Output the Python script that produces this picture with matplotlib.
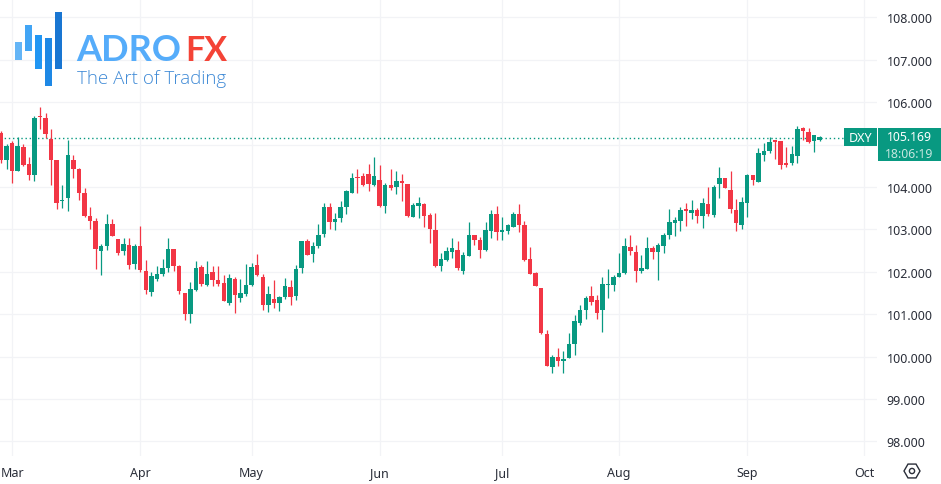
import matplotlib
matplotlib.use("Agg")
import matplotlib.pyplot as plt
from matplotlib.patches import Rectangle, RegularPolygon, Circle
import numpy as np

# daily DXY candles
opens = [105.27, 104.64, 105.05, 104.38, 104.95, 104.54, 104.28, 105.68, 105.63, 105.13,
         104.64, 103.68, 103.75, 104.63, 104.42, 103.87, 103.32, 103.20, 102.50, 102.60,
         103.12, 102.77, 102.50, 102.63, 102.18, 102.61, 102.02, 101.53, 101.84, 101.95,
         102.10, 102.53, 102.14, 101.50, 101.01, 101.57, 102.12, 101.70, 101.99, 101.82,
         101.74, 101.26, 101.83, 101.39, 101.48, 101.68, 102.16, 101.88, 101.22, 101.36,
         101.27, 101.40, 101.64, 101.42, 102.09, 102.72, 102.43, 102.62, 102.90, 103.53,
         103.18, 103.27, 103.53, 103.86, 104.24, 104.25, 104.31, 104.04, 104.17, 103.55,
         104.06, 104.01, 104.14, 104.08, 103.29, 103.55, 103.59, 103.34, 102.98, 102.14,
         102.29, 102.47, 102.52, 102.02, 102.38, 102.88, 102.75, 102.52, 102.97, 103.37,
         102.93, 102.96, 103.07, 103.37, 103.11, 102.30, 101.97, 101.62, 100.53, 99.75,
         99.99, 99.90, 99.98, 100.29, 100.79, 101.10, 101.43, 101.34, 101.11, 101.68,
         101.69, 101.87, 101.97, 102.59, 102.46, 102.01, 102.07, 102.57, 102.47, 102.62,
         102.86, 103.15, 103.21, 103.48, 103.40, 103.45, 103.33, 103.59, 103.34, 104.08,
         104.21, 103.94, 103.45, 103.11, 103.62, 104.29, 104.13, 104.76, 104.85, 105.10,
         105.08, 104.57, 104.57, 104.74, 105.40, 105.29, 105.08, 105.10]
highs = [105.33, 105.01, 105.09, 105.19, 105.01, 104.70, 105.67, 105.88, 105.74, 105.37,
         104.64, 104.05, 105.12, 104.75, 104.44, 103.98, 103.53, 103.28, 102.66, 103.36,
         103.24, 102.77, 102.80, 102.80, 102.66, 103.08, 102.29, 102.00, 102.14, 102.30,
         102.81, 102.53, 102.16, 101.50, 101.77, 102.25, 102.16, 102.25, 102.14, 102.13,
         101.92, 101.96, 101.89, 101.83, 102.18, 102.21, 102.42, 101.94, 101.67, 101.80,
         101.44, 101.85, 101.81, 102.16, 102.74, 102.78, 102.70, 103.13, 103.63, 103.63,
         103.39, 103.67, 103.94, 104.33, 104.43, 104.33, 104.55, 104.70, 104.51, 104.10,
         104.43, 104.38, 104.31, 104.08, 103.62, 103.77, 103.63, 103.40, 103.39, 102.45,
         102.58, 102.80, 102.72, 102.48, 103.18, 102.88, 102.82, 103.17, 103.45, 103.55,
         103.29, 103.13, 103.42, 103.59, 103.19, 102.58, 101.99, 101.62, 100.62, 100.04,
         100.20, 100.13, 100.55, 100.98, 101.22, 101.44, 101.66, 101.46, 101.87, 102.07,
         101.93, 102.45, 102.79, 102.87, 102.63, 102.40, 102.82, 102.60, 102.68, 102.92,
         103.48, 103.29, 103.52, 103.63, 103.70, 103.50, 103.74, 104.00, 104.05, 104.47,
         104.22, 104.37, 103.72, 103.76, 104.31, 104.29, 104.92, 105.04, 105.17, 105.12,
         105.08, 104.95, 104.98, 105.43, 105.42, 105.39, 105.23, 105.20]
lows = [104.56, 104.42, 104.09, 104.38, 104.49, 104.17, 104.15, 105.38, 105.15, 104.05,
        103.48, 103.50, 103.44, 104.22, 103.69, 103.29, 103.02, 102.08, 101.92, 102.51,
        102.84, 102.40, 102.40, 102.08, 102.07, 102.00, 101.48, 101.44, 101.79, 101.91,
        102.00, 102.03, 101.48, 100.87, 100.79, 101.55, 101.66, 101.67, 101.67, 101.67,
        101.31, 101.22, 101.03, 101.30, 101.44, 101.66, 101.91, 101.09, 101.06, 101.15,
        101.07, 101.37, 101.22, 101.34, 101.97, 102.40, 102.24, 102.56, 102.83, 103.01,
        102.99, 103.18, 103.37, 103.86, 103.86, 104.03, 103.90, 104.03, 103.52, 103.39,
        103.94, 103.84, 103.67, 103.30, 103.29, 103.27, 103.06, 102.68, 102.11, 102.02,
        102.26, 102.33, 102.05, 101.95, 102.38, 102.63, 102.33, 102.50, 102.80, 102.75,
        102.75, 102.89, 103.05, 102.95, 102.26, 101.95, 101.66, 100.54, 99.77, 99.61,
        99.77, 99.61, 99.96, 100.03, 100.75, 100.90, 101.22, 100.89, 100.59, 101.38,
        101.56, 101.87, 101.96, 102.40, 101.77, 101.98, 102.07, 102.31, 101.80, 102.44,
        102.78, 102.84, 102.97, 103.09, 103.25, 103.15, 103.03, 103.33, 103.30, 103.75,
        103.97, 103.39, 102.97, 103.01, 103.29, 104.04, 104.12, 104.62, 104.80, 104.66,
        104.43, 104.47, 104.52, 104.57, 105.10, 105.04, 104.83, 105.09]
closes = [104.64, 104.97, 104.37, 104.97, 104.53, 104.29, 105.63, 105.66, 105.26, 104.64,
          103.62, 103.69, 104.75, 104.42, 103.87, 103.31, 103.21, 102.54, 102.60, 103.12,
          102.84, 102.44, 102.66, 102.17, 102.61, 102.05, 101.58, 101.90, 101.94, 102.10,
          102.55, 102.15, 101.54, 101.01, 101.59, 102.10, 101.71, 101.96, 101.81, 101.72,
          101.32, 101.85, 101.46, 101.50, 101.70, 102.12, 101.92, 101.22, 101.48, 101.27,
          101.41, 101.67, 101.41, 102.08, 102.72, 102.41, 102.62, 102.87, 103.53, 103.18,
          103.25, 103.53, 103.90, 104.21, 104.22, 104.04, 104.07, 104.25, 103.55, 104.06,
          103.98, 104.14, 104.10, 103.31, 103.58, 103.63, 103.31, 103.01, 102.14, 102.30,
          102.49, 102.56, 102.09, 102.41, 102.87, 102.75, 102.52, 102.98, 103.37, 102.93,
          102.98, 103.11, 103.37, 103.11, 102.27, 101.95, 101.67, 100.56, 99.78, 99.99,
          99.90, 99.95, 100.30, 100.84, 101.10, 101.39, 101.29, 101.03, 101.72, 101.72,
          101.88, 101.98, 102.61, 102.49, 102.01, 102.09, 102.57, 102.47, 102.63, 102.88,
          103.18, 103.22, 103.47, 103.44, 103.45, 103.33, 103.62, 103.36, 104.00, 104.21,
          103.99, 103.48, 103.16, 103.65, 104.29, 104.17, 104.80, 104.85, 105.06, 105.07,
          104.51, 104.53, 104.77, 105.37, 105.32, 105.06, 105.22, 105.17]

price_ticks = [98, 99, 100, 101, 102, 103, 104, 105, 106, 107, 108]
month_names = ["Mar", "Apr", "May", "Jun", "Jul", "Aug", "Sep", "Oct"]
month_index = [2, 25, 45, 68, 90, 111, 134, 155]
last_price = 105.169

UP = "#089981"
DOWN = "#F23645"
GRID = "#F2F3F6"
TEXT = "#2A2E39"
FONT = "Noto Sans"

W, H = 941, 485
fig = plt.figure(figsize=(W / 100, H / 100), dpi=100, facecolor="white")
ax = fig.add_axes([0, (H - 457) / H, 877 / W, 457 / H])

x = np.arange(len(opens))
o, h, l, c = map(np.array, (opens, highs, lows, closes))
colors = [UP if cc >= oo else DOWN for oo, cc in zip(opens, closes)]

ax.vlines(x, l, h, colors=colors, lw=0.9, zorder=3)
ax.bar(x, np.maximum(np.abs(c - o), 0.02), bottom=np.minimum(o, c), width=0.8, color=colors,
       linewidth=0, zorder=4)
ax.axhline(last_price, color=UP, lw=1.0, ls=(0, (1, 2)), zorder=2)

ax.set_xlim(-0.18, 157.3)
ax.set_ylim(97.658, 108.436)
ax.set_yticks(price_ticks)
# the 105 label sits under the last-price tag, so it is left blank
ax.set_yticklabels(["" if p == 105 else f"{p:.3f}" for p in price_ticks], family=FONT, fontsize=9, color=TEXT)
ax.set_xticks(month_index)
ax.set_xticklabels(month_names, family=FONT, fontsize=9, color=TEXT)
ax.yaxis.tick_right()
ax.tick_params(axis="y", length=0, pad=7)
ax.tick_params(axis="x", length=0, pad=7)
ax.grid(True, color=GRID, lw=0.9, zorder=0)
ax.set_axisbelow(True)
for s in ax.spines.values():
    s.set_visible(False)

# everything below is chrome placed in pixels: price tags, logo, settings icon
ov = fig.add_axes([0, 0, 1, 1], facecolor="none", zorder=10)
ov.set_xlim(0, W)
ov.set_ylim(H, 0)
ov.axis("off")

ov.add_patch(Rectangle((844, 129), 33, 18, color=UP, lw=0))
ov.add_patch(Rectangle((878, 129), 63, 33, color=UP, lw=0))
ov.text(860.5, 138.5, "DXY", color="white", family=FONT, fontsize=9, ha="center", va="center", weight="medium")
ov.text(909.5, 138, f"{last_price:.3f}", color="white", family=FONT, fontsize=8.8, ha="center", va="center")
ov.text(909.5, 155, "18:06:19", color="#C5E6DF", family=FONT, fontsize=8.8, ha="center", va="center")

bars = [(15, 43, 6.7, 18, "#64B5F6"), (25, 26, 6.7, 26, "#42A5F5"), (35, 36, 6.7, 34, "#2196F3"),
        (45, 39, 6.7, 48, "#1E88E5"), (55, 13, 6.7, 57, "#1976D2")]
for bx, by, bw, bh, col in bars:
    ov.add_patch(Rectangle((bx, by), bw, bh, color=col, lw=0))
ov.text(76, 61, "ADRO", color="#55ACFA", family="Lato", fontsize=26, weight="bold", ha="left", va="baseline")
ov.text(185, 61, "FX", color="#F44336", family="Lato", fontsize=24.5, weight="bold", ha="left", va="baseline")
ov.text(77, 84, "The Art of Trading", color="#3F8AD6", family="Open Sans", fontsize=13.5, ha="left", va="baseline",
        weight="light")

ov.add_patch(RegularPolygon((912, 472), 6, radius=8, orientation=np.pi / 6, fill=False, ec=TEXT, lw=1.0))
ov.add_patch(Circle((912, 472), 2.6, fill=False, ec=TEXT, lw=1.0))

fig.savefig("out.png", dpi=100, facecolor="white")
